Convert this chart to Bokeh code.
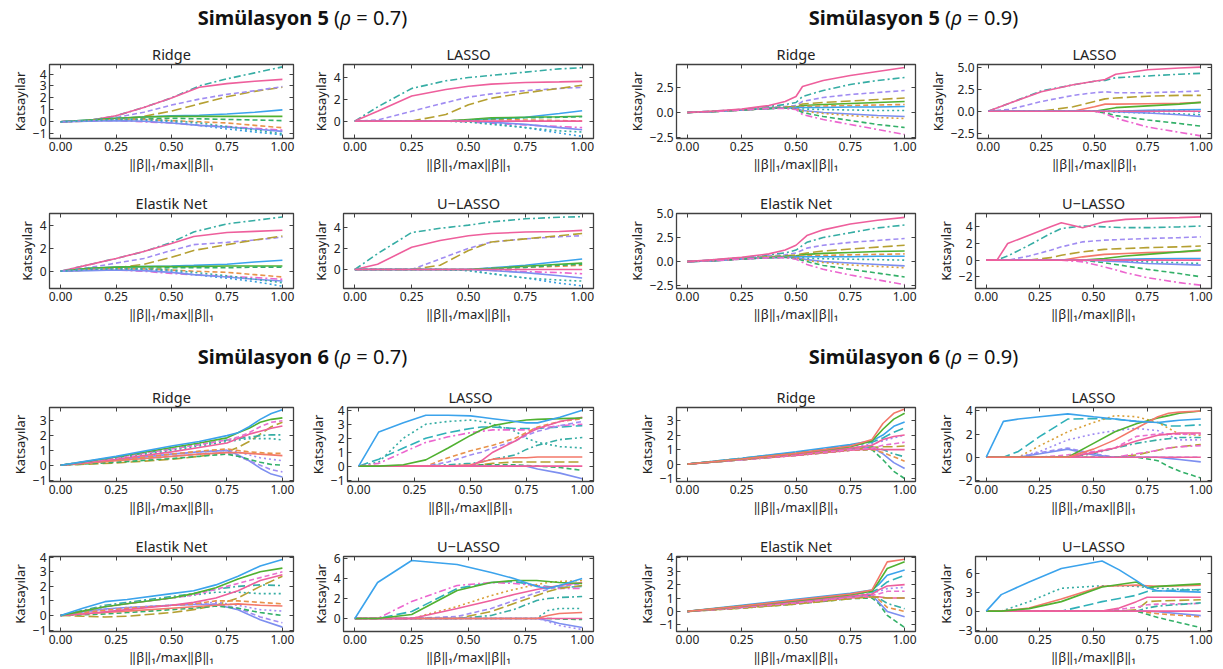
from bokeh.plotting import figure
from bokeh.models import Range1d, FixedTicker, LinearAxis, Div
from bokeh.layouts import column, row
from bokeh.embed import file_html
from bokeh.resources import INLINE

FONT = "Noto Sans"

# ---------------- texts / ticks ----------------
GROUP_TITLES = [("Simülasyon 5", "0.7"), ("Simülasyon 5", "0.9"),
                ("Simülasyon 6", "0.7"), ("Simülasyon 6", "0.9")]
PANEL_TITLES = ["Ridge", "LASSO", "Elastik Net", "U\u2212LASSO"]
Y_LABEL = "Katsayılar"
X_LABEL = "‖β‖₁/max‖β‖₁"
X_TICKS = [0.0, 0.25, 0.5, 0.75, 1.0]
X_TICK_LABELS = ["0.00", "0.25", "0.50", "0.75", "1.00"]

# ---------------- styles per variable ----------------
STYLE = {
    "A": ("#ee5f9c", "solid"), "B": ("#36ada4", "7 3 2 3"), "C": ("#a08cf2", "5 3"),
    "D": ("#b5a032", "10 4"), "E": ("#3ba3ec", "solid"), "F": ("#50b131", "solid"),
    "G": ("#e8924a", "5 3"), "H": ("#ec66cf", "7 3 2 3"), "I": ("#3aa0e0", "2 3"),
    "J": ("#33b068", "5 3"), "K": ("#7d8ff0", "solid"), "L": ("#36ada4", "2 3"),
    "M": ("#f3786a", "solid"), "N": ("#e870d0", "5 3"), "O": ("#d9a03a", "2 3"),
    "P": ("#2fb0b8", "10 4"), "Q": ("#a08cf2", "2 3"), "Z": ("#ee5f9c", "solid"),
}

# ================= Simülasyon 5, rho = 0.7 =================
s5a_ridge_x = [0, .125, .25, .375, .5, .625, .75, .875, 1]
s5a_ridge = {
    "D": [0, .05, .2, .45, .9, 1.5, 2.1, 2.55, 2.9],
    "C": [0, .08, .35, .8, 1.4, 1.9, 2.3, 2.6, 2.95],
    "B": [0, .1, .5, 1.2, 2.0, 3.0, 3.6, 4.1, 4.6],
    "A": [0, .1, .5, 1.2, 2.0, 2.9, 3.2, 3.4, 3.55],
    "E": [0, .15, .3, .4, .5, .55, .65, .8, 1.0],
    "F": [0, .15, .3, .4, .45, .45, .45, .45, .45],
    "J": [0, .1, .2, .25, .3, .25, .2, .15, .1],
    "G": [0, .1, .2, .2, .1, 0, -.1, -.3, -.5],
    "H": [0, .05, .1, 0, -.1, -.3, -.4, -.55, -.7],
    "I": [0, .1, .2, .15, 0, -.3, -.6, -.85, -1.1],
    "K": [0, .05, .1, .05, -.1, -.3, -.45, -.6, -.8],
    "L": [0, .1, .2, .2, .1, -.1, -.4, -.7, -1.0],
}
s5a_lasso_x = [0, .1, .25, .4, .5, .6, .75, .9, 1]
s5a_lasso = {
    "B": [0, 1.3, 3.0, 3.7, 4.0, 4.2, 4.5, 4.8, 4.9],
    "A": [0, .9, 2.3, 2.9, 3.2, 3.4, 3.55, 3.6, 3.65],
    "C": [0, .1, .9, 1.7, 2.2, 2.5, 2.8, 3.0, 3.1],
    "D": [0, 0, 0, .6, 1.5, 2.1, 2.6, 3.0, 3.3],
    "E": [0, 0, 0, 0, .1, .2, .35, .7, .95],
    "F": [0, 0, 0, 0, .15, .3, .35, .4, .45],
    "G": [0, 0, 0, 0, .1, .15, .1, .05, 0],
    "J": [0, 0, 0, 0, .1, .2, .3, .35, .4],
    "H": [0, 0, 0, 0, -.05, -.2, -.35, -.5, -.6],
    "I": [0, 0, 0, 0, 0, -.2, -.6, -1.1, -1.4],
    "K": [0, 0, 0, 0, 0, -.1, -.3, -.6, -.8],
    "L": [0, 0, 0, 0, -.1, -.3, -.6, -.9, -1.0],
    "Z": [0, 0, 0, 0, 0, 0, 0, 0, 0],
}
s5a_en_x = [0, .125, .25, .375, .5, .6, .75, .875, 1]
s5a_en = {
    "B": [0, .55, 1.1, 1.7, 2.5, 3.4, 4.1, 4.4, 4.7],
    "A": [0, .55, 1.1, 1.7, 2.4, 3.0, 3.35, 3.45, 3.55],
    "C": [0, .3, .7, 1.1, 1.8, 2.3, 2.5, 2.7, 2.95],
    "D": [0, .1, .3, .6, 1.2, 1.8, 2.3, 2.7, 3.05],
    "E": [0, .25, .35, .4, .45, .5, .6, .8, .95],
    "F": [0, .25, .35, .4, .4, .4, .45, .45, .45],
    "J": [0, .1, .2, .25, .3, .3, .3, .35, .35],
    "G": [0, .15, .2, .2, .1, 0, -.1, -.3, -.5],
    "H": [0, .1, .1, 0, -.2, -.3, -.45, -.55, -.7],
    "I": [0, .15, .2, .15, 0, -.3, -.6, -.9, -1.3],
    "K": [0, .05, .1, .05, -.1, -.3, -.5, -.7, -.85],
    "L": [0, .15, .2, .2, .1, -.1, -.4, -.7, -1.0],
}
s5a_ul_x = [0, .1, .25, .375, .5, .6, .75, .9, 1]
s5a_ul = {
    "B": [0, 1.5, 3.5, 3.9, 4.2, 4.5, 4.8, 4.95, 5.0],
    "A": [0, .5, 2.1, 2.75, 3.2, 3.4, 3.55, 3.6, 3.7],
    "C": [0, 0, 0, 1.0, 2.0, 2.6, 2.9, 3.1, 3.2],
    "D": [0, 0, 0, .4, 1.8, 2.6, 2.9, 3.2, 3.4],
    "E": [0, 0, 0, 0, 0, .15, .4, .75, 1.0],
    "F": [0, 0, 0, 0, 0, .1, .3, .5, .6],
    "G": [0, 0, 0, 0, 0, .1, .2, .3, .4],
    "J": [0, 0, 0, 0, 0, .1, .2, .4, .5],
    "H": [0, 0, 0, 0, 0, -.1, -.2, -.3, -.4],
    "I": [0, 0, 0, 0, -.1, -.4, -.8, -1.3, -1.55],
    "K": [0, 0, 0, 0, 0, -.1, -.3, -.6, -.8],
    "L": [0, 0, 0, 0, -.1, -.4, -.8, -1.0, -1.1],
    "Z": [0, 0, 0, 0, 0, 0, 0, 0, 0],
}

# ================= Simülasyon 5, rho = 0.9 =================
s5b_ridge_x = [0, .125, .25, .375, .45, .5, .53, .625, .75, .875, 1]
s5b_ridge = {
    "B": [0, .15, .3, .6, .8, 1.0, 1.6, 2.2, 2.8, 3.2, 3.5],
    "C": [0, .12, .3, .5, .6, .7, 1.1, 1.5, 1.8, 2.0, 2.2],
    "D": [0, .1, .25, .45, .55, .6, .85, 1.0, 1.15, 1.3, 1.45],
    "F": [0, .1, .25, .4, .5, .55, .7, .8, .9, 1.0, 1.1],
    "G": [0, .1, .25, .4, .5, .55, .6, .65, .7, .75, .8],
    "E": [0, .1, .25, .4, .45, .5, .5, .5, .55, .55, .6],
    "L": [0, .1, .25, .4, .45, .45, .35, .3, .25, .2, .2],
    "K": [0, .1, .25, .4, .45, .4, .2, 0, -.15, -.3, -.4],
    "O": [0, .1, .25, .4, .45, .4, .15, -.1, -.3, -.5, -.6],
    "J": [0, .1, .25, .4, .45, .35, 0, -.4, -.8, -1.2, -1.5],
    "H": [0, .1, .25, .4, .4, .3, -.2, -.7, -1.2, -1.7, -2.2],
    "A": [0, .15, .35, .7, 1.1, 1.6, 2.6, 3.2, 3.7, 4.1, 4.5],
}
s5b_lasso_x = [0, .1, .25, .4, .5, .55, .6, .75, .9, 1]
s5b_lasso = {
    "B": [0, .9, 2.3, 3.0, 3.4, 3.5, 3.8, 4.0, 4.2, 4.3],
    "A": [0, .9, 2.2, 3.0, 3.4, 3.6, 4.2, 4.7, 4.9, 5.0],
    "C": [0, .2, 1.1, 1.8, 2.1, 2.2, 2.1, 2.1, 2.2, 2.3],
    "D": [0, 0, 0, .5, 1.1, 1.4, 1.5, 1.7, 1.8, 1.8],
    "M": [0, 0, 0, 0, .5, .8, .8, .85, .9, 1.0],
    "F": [0, 0, 0, 0, 0, .2, .4, .6, .8, 1.0],
    "J": [0, 0, 0, 0, 0, -.2, -.5, -1.0, -1.4, -1.7],
    "H": [0, 0, 0, 0, 0, -.3, -.8, -1.8, -2.4, -2.8],
    "E": [0, 0, 0, 0, 0, 0, 0, .1, .15, .2],
    "L": [0, 0, 0, 0, 0, 0, -.1, -.2, -.3, -.4],
    "K": [0, 0, 0, 0, 0, 0, -.05, -.2, -.4, -.6],
    "I": [0, 0, 0, 0, 0, 0, 0, .05, .1, -.1],
    "Z": [0, 0, 0, 0, 0, 0, 0, 0, 0, 0],
}
s5b_en_x = [0, .125, .25, .375, .45, .5, .55, .625, .75, .875, 1]
s5b_en = {
    "B": [0, .2, .4, .7, .9, 1.2, 2.0, 2.5, 3.0, 3.5, 3.8],
    "C": [0, .15, .35, .6, .7, .9, 1.4, 1.7, 2.0, 2.2, 2.4],
    "D": [0, .1, .3, .5, .6, .7, .9, 1.1, 1.3, 1.5, 1.7],
    "F": [0, .1, .3, .45, .55, .6, .75, .85, .95, 1.05, 1.1],
    "G": [0, .1, .3, .45, .5, .55, .6, .65, .7, .75, .8],
    "E": [0, .1, .3, .4, .45, .5, .5, .5, .5, .55, .55],
    "L": [0, .1, .3, .4, .45, .45, .35, .3, .25, .2, .15],
    "K": [0, .1, .3, .4, .45, .4, .2, 0, -.15, -.3, -.45],
    "O": [0, .1, .3, .4, .45, .4, .1, -.1, -.35, -.5, -.65],
    "J": [0, .1, .25, .4, .45, .3, 0, -.4, -.8, -1.2, -1.6],
    "H": [0, .1, .25, .4, .4, .25, -.3, -.8, -1.4, -1.9, -2.4],
    "A": [0, .2, .45, .8, 1.2, 1.7, 2.7, 3.3, 3.9, 4.3, 4.6],
}
s5b_ul_x = [0, .05, .1, .2, .3, .35, .45, .55, .65, .75, .9, 1]
s5b_ul = {
    "B": [0, 0, .5, 1.8, 3.2, 3.8, 4.1, 4.0, 3.9, 3.9, 4.0, 4.1],
    "C": [0, 0, 0, .5, 1.2, 1.6, 2.2, 2.4, 2.5, 2.6, 2.7, 2.8],
    "D": [0, 0, 0, 0, .3, .6, 1.0, 1.3, 1.4, 1.5, 1.6, 1.7],
    "M": [0, 0, 0, 0, 0, 0, .4, .7, .8, .9, 1.0, 1.1],
    "F": [0, 0, 0, 0, 0, 0, 0, .2, .5, .7, 1.0, 1.2],
    "J": [0, 0, 0, 0, 0, 0, 0, -.3, -.7, -1.1, -1.6, -2.0],
    "H": [0, 0, 0, 0, 0, 0, -.2, -.8, -1.5, -2.1, -2.7, -3.0],
    "E": [0, 0, 0, 0, 0, 0, 0, 0, .1, .15, .2, .2],
    "L": [0, 0, 0, 0, 0, 0, 0, 0, -.1, -.2, -.3, -.4],
    "K": [0, 0, 0, 0, 0, 0, 0, -.1, -.2, -.4, -.5, -.6],
    "Z": [0, 0, 0, 0, 0, 0, 0, 0, 0, 0, 0, 0],
    "A": [0, 0, 2.0, 3.0, 4.0, 4.5, 3.9, 4.6, 4.9, 5.0, 5.1, 5.2],
}

# ================= Simülasyon 6, rho = 0.7 =================
s6a_ridge_x = [0, .25, .5, .625, .75, .8, .85, .9, .95, 1]
s6a_ridge = {
    "D": [0, .15, .4, .6, .9, 1.2, 1.6, 2.1, 2.6, 2.9],
    "K": [0, .35, .75, .9, 1.0, .7, .3, -.2, -.6, -.8],
    "C": [0, .3, .6, .75, .85, .6, .3, 0, -.3, -.45],
    "J": [0, .2, .45, .6, .75, .6, .4, .2, .05, 0],
    "Q": [0, .35, .75, .9, 1.0, .9, .7, .5, .4, .3],
    "M": [0, .3, .6, .75, .85, .85, .8, .75, .7, .65],
    "G": [0, .35, .75, .95, 1.1, 1.0, .9, .85, .8, .8],
    "L": [0, .45, 1.0, 1.3, 1.6, 1.7, 1.8, 1.8, 1.8, 1.7],
    "B": [0, .5, 1.1, 1.4, 1.7, 1.8, 1.9, 2.0, 2.05, 2.05],
    "A": [0, .4, .9, 1.2, 1.5, 1.8, 2.1, 2.3, 2.5, 2.65],
    "N": [0, .5, 1.1, 1.4, 1.7, 1.9, 2.2, 2.6, 2.9, 3.0],
    "F": [0, .55, 1.2, 1.5, 1.85, 2.2, 2.5, 2.9, 3.1, 3.2],
    "E": [0, .6, 1.3, 1.6, 2.0, 2.2, 2.6, 3.1, 3.5, 3.75],
}
s6a_lasso_x = [0, .09, .2, .3, .4, .5, .55, .6, .7, .75, .8, .9, 1]
s6a_lasso = {
    "P": [0, .5, 1.3, 2.0, 2.4, 2.7, 2.8, 2.8, 2.7, 2.7, 2.7, 2.8, 2.9],
    "L": [0, .3, 2.0, 3.0, 3.2, 3.3, 3.2, 3.0, 2.5, 2.0, 1.7, 1.4, 1.3],
    "H": [0, .2, 1.0, 1.7, 2.1, 2.4, 2.5, 2.6, 2.6, 2.6, 2.7, 2.9, 3.0],
    "G": [0, 0, 0, 0, .6, 1.1, 1.3, 1.5, 2.0, 2.4, 2.8, 3.2, 3.4],
    "C": [0, 0, 0, 0, .3, .8, 1.0, 1.3, 1.8, 2.2, 2.5, 2.9, 3.2],
    "B": [0, 0, 0, 0, .1, .2, .3, .5, .8, 1.2, 1.5, 1.9, 2.05],
    "D": [0, 0, 0, 0, 0, 0, .1, .2, .3, .3, .3, .3, .3],
    "J": [0, 0, 0, 0, 0, .05, .1, .1, .1, .05, 0, -.1, -.3],
    "K": [0, 0, 0, 0, 0, 0, 0, 0, 0, 0, -.2, -.5, -.9],
    "Z": [0, 0, 0, 0, 0, 0, 0, 0, 0, 0, 0, 0, 0],
    "M": [0, 0, 0, 0, 0, .1, .3, .5, .6, .6, .65, .65, .65],
    "A": [0, 0, 0, 0, 0, 0, .4, 1.0, 1.8, 2.3, 2.7, 3.2, 3.5],
    "F": [0, 0, .1, .45, 1.3, 2.2, 2.6, 2.9, 3.2, 3.3, 3.35, 3.4, 3.45],
    "E": [0, 2.45, 3.1, 3.65, 3.65, 3.6, 3.5, 3.4, 3.2, 3.1, 3.1, 3.5, 4.0],
}
s6a_en_x = [0, .1, .2, .3, .5, .6, .7, .8, .9, 1]
s6a_en = {
    "D": [0, -.05, -.1, -.05, .2, .4, .7, 1.2, 2.0, 2.7],
    "K": [0, .25, .45, .55, .7, .75, .75, .4, -.3, -.8],
    "C": [0, .2, .4, .5, .7, .75, .8, .5, -.1, -.5],
    "J": [0, .05, .1, .2, .4, .5, .65, .5, .2, 0],
    "Q": [0, .2, .4, .55, .7, .8, .9, .7, .4, .3],
    "M": [0, .1, .2, .3, .5, .6, .7, .8, .7, .65],
    "G": [0, .2, .35, .5, .7, .8, 1.0, 1.0, .9, .8],
    "L": [0, .3, .6, .85, 1.2, 1.4, 1.6, 1.6, 1.5, 1.5],
    "B": [0, .35, .7, .9, 1.3, 1.5, 1.8, 2.0, 2.1, 2.05],
    "A": [0, .1, .25, .4, .7, .9, 1.2, 1.7, 2.4, 2.8],
    "N": [0, .3, .6, .8, 1.2, 1.4, 1.8, 2.2, 2.6, 3.0],
    "F": [0, .3, .6, .8, 1.2, 1.5, 1.9, 2.5, 3.0, 3.25],
    "E": [0, .5, .95, 1.1, 1.5, 1.7, 2.1, 2.7, 3.4, 3.85],
}
s6a_ul_x = [0, .1, .25, .45, .6, .7, .8, .85, .9, 1]
s6a_ul = {
    "P": [0, 0, .7, 3.0, 3.6, 3.7, 3.3, 3.2, 3.1, 3.2],
    "H": [0, 0, 1.7, 3.3, 3.6, 3.5, 3.3, 3.1, 3.0, 3.0],
    "O": [0, 0, 0, 1.2, 2.3, 2.9, 3.4, 3.6, 3.7, 3.8],
    "C": [0, 0, 0, .2, 1.0, 1.8, 2.6, 2.9, 3.2, 3.5],
    "D": [0, 0, 0, 0, .7, 1.5, 2.3, 2.7, 3.0, 3.3],
    "B": [0, 0, 0, 0, .3, .9, 1.8, 2.0, 2.1, 2.2],
    "L": [0, 0, 0, 0, 0, 0, 0, .8, 1.0, 1.0],
    "J": [0, 0, 0, 0, 0, 0, 0, 0, -.05, -.1],
    "K": [0, 0, 0, 0, 0, 0, 0, -.2, -.5, -.9],
    "Q": [0, 0, 0, 0, 0, 0, 0, -.3, -.7, -1.1],
    "Z": [0, 0, 0, 0, 0, 0, 0, 0, 0, 0],
    "M": [0, 0, 0, 0, 0, 0, 0, .3, .5, .6],
    "A": [0, 0, 0, 1.0, 1.8, 2.4, 2.9, 3.1, 3.3, 3.6],
    "F": [0, 0, .4, 2.8, 3.6, 3.8, 3.8, 3.7, 3.6, 3.5],
    "E": [0, 3.6, 5.8, 5.4, 4.6, 4.0, 3.2, 3.0, 3.3, 4.0],
}

# ================= Simülasyon 6, rho = 0.9 =================
s6b_ridge_x = [0, .25, .5, .75, .85, .9, .95, 1]
s6b_ridge = {
    "J": [0, .3, .6, .95, 1.0, .3, -.5, -1.0],
    "K": [0, .3, .65, 1.05, 1.15, .7, .1, -.3],
    "G": [0, .3, .6, .95, 1.0, .8, .5, .2],
    "B": [0, .3, .65, 1.05, 1.2, 1.0, .7, .5],
    "Z": [0, .3, .6, .95, 1.05, 1.0, 1.0, 1.0],
    "D": [0, .3, .65, 1.0, 1.15, 1.2, 1.2, 1.25],
    "N": [0, .3, .65, 1.0, 1.1, 1.3, 1.4, 1.5],
    "Q": [0, .35, .75, 1.2, 1.4, 1.6, 1.8, 2.0],
    "A": [0, .35, .7, 1.1, 1.3, 1.7, 1.9, 2.0],
    "P": [0, .4, .8, 1.3, 1.5, 1.8, 2.2, 2.5],
    "E": [0, .4, .85, 1.35, 1.6, 2.0, 2.6, 2.9],
    "F": [0, .35, .75, 1.2, 1.6, 2.4, 3.1, 3.5],
    "M": [0, .35, .75, 1.25, 1.7, 2.8, 3.5, 3.8],
}
s6b_lasso_x = [0, .08, .15, .25, .38, .5, .6, .7, .8, .85, .9, 1]
s6b_lasso = {
    "P": [0, 0, .5, 1.8, 3.3, 3.35, 3.3, 3.1, 3.0, 2.7, 2.7, 2.8],
    "O": [0, 0, 0, 1.0, 2.2, 3.0, 3.6, 3.5, 3.0, 2.5, 2.0, 1.9],
    "Q": [0, 0, 0, .5, 1.5, 2.0, 2.3, 2.5, 2.3, 1.9, 1.5, 1.5],
    "B": [0, 0, 0, 0, 0, .3, .8, 1.2, 1.5, 1.6, 1.7, 1.7],
    "D": [0, 0, 0, 0, 0, 0, 0, .2, .6, .8, .9, 1.1],
    "H": [0, 0, 0, 0, 0, 0, 0, .3, .6, .8, .9, 1.0],
    "C": [0, 0, 0, .4, .8, .3, 0, 0, 0, 0, 0, 0],
    "K": [0, 0, 0, .3, .7, .2, 0, 0, 0, -.1, -.2, -.4],
    "J": [0, 0, 0, 0, 0, 0, 0, 0, -.3, -.8, -1.2, -1.8],
    "Z": [0, 0, 0, 0, 0, 0, 0, 0, 0, 0, 0, 0],
    "N": [0, 0, 0, 0, .2, .5, .8, 1.8, 2.0, 2.0, 2.0, 2.0],
    "A": [0, 0, 0, 0, 0, .4, .8, 1.4, 1.9, 2.0, 2.1, 2.1],
    "F": [0, 0, 0, 0, 0, 1.2, 2.2, 2.9, 3.4, 3.6, 3.8, 4.0],
    "M": [0, 0, 0, 0, 0, .7, 1.5, 2.5, 3.5, 3.8, 3.9, 4.0],
    "E": [0, 3.1, 3.3, 3.5, 3.75, 3.5, 3.3, 3.1, 3.0, 3.1, 3.2, 3.3],
}
s6b_en_x = [0, .25, .5, .75, .85, .88, .92, 1]
s6b_en = {
    "J": [0, .25, .55, .95, 1.0, .6, -.3, -1.2],
    "K": [0, .3, .7, 1.1, 1.2, .7, 0, -.4],
    "G": [0, .25, .6, 1.0, 1.1, .9, .3, 0],
    "B": [0, .3, .65, 1.1, 1.2, 1.0, .6, .2],
    "Z": [0, .3, .6, 1.0, 1.1, 1.1, 1.0, 1.0],
    "D": [0, .25, .55, .95, 1.1, 1.05, 1.0, 1.0],
    "N": [0, .3, .65, 1.05, 1.2, 1.3, 1.5, 1.5],
    "Q": [0, .35, .75, 1.2, 1.35, 1.5, 1.7, 1.8],
    "A": [0, .35, .75, 1.15, 1.3, 1.6, 1.9, 2.0],
    "P": [0, .4, .85, 1.3, 1.45, 1.7, 2.2, 2.7],
    "E": [0, .45, .9, 1.35, 1.6, 2.0, 2.7, 3.1],
    "F": [0, .4, .8, 1.25, 1.5, 2.2, 3.2, 3.7],
    "M": [0, .4, .85, 1.3, 1.6, 2.5, 3.7, 3.9],
}
s6b_ul_x = [0, .07, .2, .35, .54, .62, .7, .75, .8, 1]
s6b_ul = {
    "L": [0, 0, 1.5, 3.6, 4.0, 4.0, 3.9, 3.7, 3.6, 3.3],
    "P": [0, 0, 0, 0, 1.5, 2.0, 2.5, 3.1, 3.2, 3.4],
    "D": [0, 0, 0, 0, 0, 0, .2, 1.5, 1.6, 1.8],
    "N": [0, 0, 0, 0, 0, .3, .6, 1.0, 1.1, 1.2],
    "B": [0, 0, 0, 0, 0, 0, 0, .5, .8, 1.3],
    "K": [0, 0, 0, 0, 0, 0, 0, 0, -.1, -.7],
    "G": [0, 0, 0, 0, 0, 0, 0, -.2, -.4, -.9],
    "J": [0, 0, 0, 0, 0, 0, 0, -.5, -1.0, -2.6],
    "Z": [0, 0, 0, 0, 0, 0, 0, 0, 0, 0],
    "A": [0, 0, 0, 0, 0, .5, 1.5, 2.2, 2.2, 2.2],
    "M": [0, 0, .5, 1.9, 3.9, 4.0, 4.1, 4.0, 3.9, 4.1],
    "F": [0, 0, .4, 1.5, 3.8, 4.2, 4.6, 3.7, 3.9, 4.3],
    "E": [0, 2.6, 4.6, 6.7, 7.9, 6.5, 4.8, 3.7, 3.2, 3.0],
}

# y axis ranges and ticks per panel  (panel order: Ridge, LASSO, Elastik Net, U-LASSO)
S5A_YR = [(-1.4, 4.8), (-1.6, 5.2), (-1.5, 5.0), (-1.8, 5.3)]
S5A_YT = [[-1, 0, 1, 2, 3, 4], [0, 2, 4], [0, 2, 4], [0, 2, 4]]
S5B_YR = [(-2.6, 4.8), (-3.1, 5.3), (-2.8, 5.0), (-3.4, 5.6)]
S5B_YT = [[-2.5, 0.0, 2.5], [-2.5, 0.0, 2.5, 5.0], [-2.5, 0.0, 2.5, 5.0], [-2, 0, 2, 4]]
S6A_YR = [(-1.1, 3.9), (-1.1, 4.2), (-1.1, 4.05), (-1.3, 6.2)]
S6A_YT = [[-1, 0, 1, 2, 3], [-1, 0, 1, 2, 3, 4], [-1, 0, 1, 2, 3, 4], [0, 2, 4, 6]]
S6B_YR = [(-1.2, 3.9), (-2.1, 4.3), (-1.5, 4.1), (-3.2, 8.6)]
S6B_YT = [[-1, 0, 1, 2, 3], [-2, 0, 2, 4], [-1, 0, 1, 2, 3, 4], [-3, 0, 3, 6]]

GROUPS = [
    ([(s5a_ridge_x, s5a_ridge), (s5a_lasso_x, s5a_lasso), (s5a_en_x, s5a_en), (s5a_ul_x, s5a_ul)], S5A_YR, S5A_YT),
    ([(s5b_ridge_x, s5b_ridge), (s5b_lasso_x, s5b_lasso), (s5b_en_x, s5b_en), (s5b_ul_x, s5b_ul)], S5B_YR, S5B_YT),
    ([(s6a_ridge_x, s6a_ridge), (s6a_lasso_x, s6a_lasso), (s6a_en_x, s6a_en), (s6a_ul_x, s6a_ul)], S6A_YR, S6A_YT),
    ([(s6b_ridge_x, s6b_ridge), (s6b_lasso_x, s6b_lasso), (s6b_en_x, s6b_en), (s6b_ul_x, s6b_ul)], S6B_YR, S6B_YT),
]

# ---------------- layout geometry ----------------
COLS = [(305, 49, 12), (300, 38, 12), (320, 71, 10), (297, 50, 11)]   # width, left, right
ROWS = [(149, 28, 47), (154, 28, 51), (149, 28, 47), (140, 28, 37)]   # height, top, bottom
DIVS = [(36, 6), (40, 6)]                                             # height, padding-top
AX = "#404040"


def fmt(v, dec):
    s = f"{v:.{dec}f}" if dec else f"{int(round(v))}"
    return s.replace("-", "\u2212")


def panel(title, xs, series, yr, yt, col, rw):
    w, bl, br = COLS[col]
    h, bt, bb = ROWS[rw]
    p = figure(width=w, height=h, x_range=Range1d(-0.05, 1.05), y_range=Range1d(*yr),
               output_backend="svg", toolbar_location=None, title=title,
               min_border_left=bl, min_border_right=br, min_border_top=bt, min_border_bottom=bb)
    p.title.align = "center"
    p.title.text_font = FONT
    p.title.text_font_size = "14.5px"
    p.title.text_font_style = "normal"
    p.title.text_color = "#222"
    p.title.standoff = 2
    p.title.offset = 0
    p.grid.visible = False
    p.outline_line_color = AX
    p.outline_line_width = 1.3
    p.background_fill_color = "white"
    p.border_fill_color = "white"
    for key, vals in series.items():
        c, d = STYLE[key]
        p.line(xs, vals, line_color=c, line_dash=d, line_width=1.6)
    dec = 1 if any(abs(t - round(t)) > 1e-9 for t in yt) else 0
    p.xaxis.ticker = FixedTicker(ticks=X_TICKS)
    p.xaxis.major_label_overrides = {t: l for t, l in zip(X_TICKS, X_TICK_LABELS)}
    p.yaxis.ticker = FixedTicker(ticks=yt)
    p.yaxis.major_label_overrides = {float(t): fmt(t, dec) for t in yt}
    p.xaxis.axis_label = X_LABEL
    p.yaxis.axis_label = Y_LABEL
    for ax in (p.xaxis[0], p.yaxis[0]):
        ax.major_tick_in = 4
        ax.major_tick_out = 0
        ax.minor_tick_line_color = None
        ax.axis_line_color = AX
        ax.major_tick_line_color = AX
        ax.major_label_text_font = FONT
        ax.major_label_text_font_size = "12px"
        ax.major_label_text_color = "#222"
        ax.major_label_standoff = 3
        ax.axis_label_text_font = FONT
        ax.axis_label_text_font_size = "13px"
        ax.axis_label_text_font_style = "normal"
        ax.axis_label_text_color = "#222"
        ax.axis_label_standoff = 1
    # tick marks on the top and right edges, without labels
    for loc, tk in (("above", X_TICKS), ("right", yt)):
        ax = LinearAxis(ticker=FixedTicker(ticks=tk), major_tick_in=4, major_tick_out=0,
                        minor_tick_line_color=None, axis_line_color=AX, major_tick_line_color=AX,
                        major_label_text_color=None, major_label_text_font_size="1px",
                        major_label_standoff=0)
        p.add_layout(ax, loc)
    return p


def group_block(gi, col0, row0):
    (name, rho) = GROUP_TITLES[gi]
    panels, yrs, yts = GROUPS[gi]
    figs = []
    for k in range(4):
        xs, series = panels[k]
        figs.append(panel(PANEL_TITLES[k], xs, series, yrs[k], yts[k], col0 + k % 2, row0 + k // 2))
    width = COLS[col0][0] + COLS[col0 + 1][0]
    dh, pad = DIVS[row0 // 2]
    html = (f'<div style="width:{width}px;height:{dh}px;box-sizing:border-box;padding-top:{pad}px;'
            f'text-align:center;font-family:\'{FONT}\';'
            f'font-size:20px;line-height:24px;color:#111;white-space:nowrap">'
            f'<b>{name}</b> (<i>ρ</i> = {rho})</div>')
    div = Div(text=html, width=width, height=dh, margin=0)
    return column(div, row(figs[0], figs[1]), row(figs[2], figs[3]))


layout = column(
    row(group_block(0, 0, 0), group_block(1, 2, 0)),
    row(group_block(2, 0, 2), group_block(3, 2, 2)),
)

open("out.html", "w").write(file_html(layout, INLINE, "Katsayı yolları"))
